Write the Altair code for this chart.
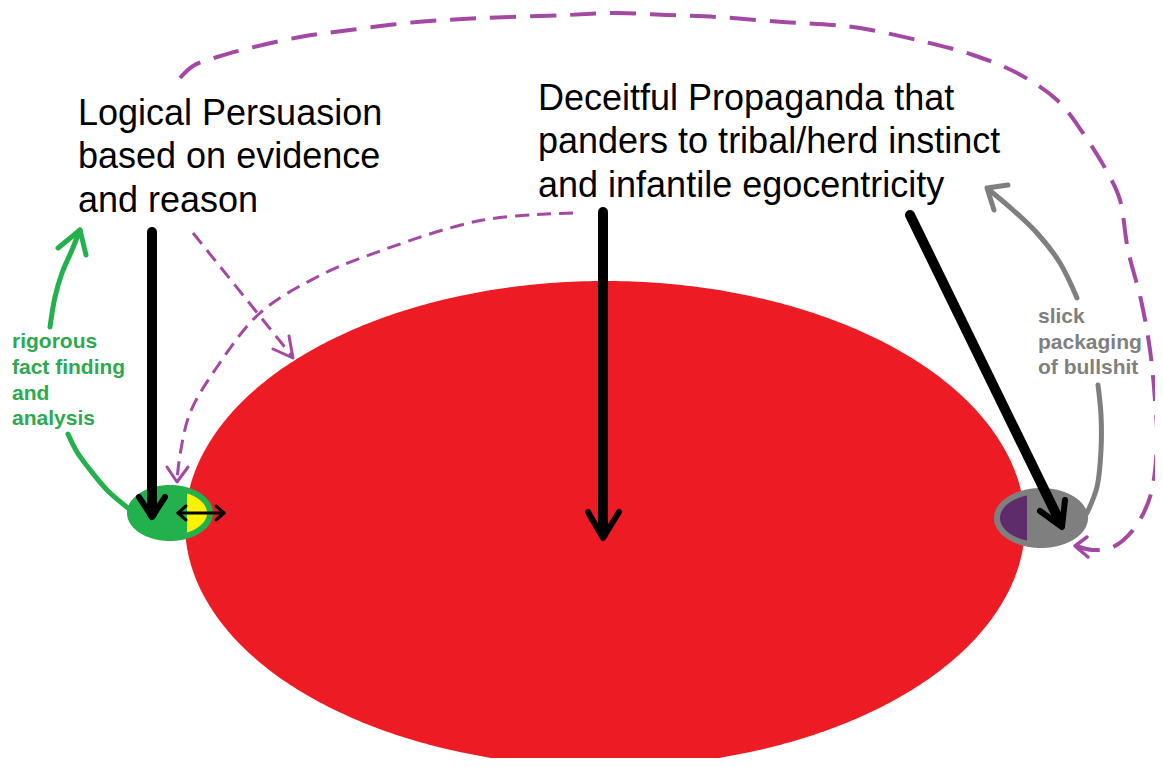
import altair as alt
import numpy as np
import pandas as pd

# ---------------- data (reference pixel coordinates) ----------------
# ellipses: big body, green "logic" blob + yellow core, grey "spin" blob + purple core
ell_name = ["body", "logic", "logic_core", "spin", "spin_core"]
ell_cx = [605, 170, 170, 1041, 1041]
ell_cy = [524, 513, 513, 518, 518]
ell_rx = [420, 43, 37, 47, 41]
ell_ry = [243, 28, 22, 30, 24]
ell_xmin = [None, None, 187, None, None]
ell_xmax = [None, None, None, None, 1027]

# big purple dashed loop (right text -> grey blob)
loop_x = [180, 193, 217, 250, 300, 350, 417, 483, 567, 617, 667, 717, 783, 833, 860, 917, 973,
          1017, 1057, 1083, 1110, 1120, 1128, 1141, 1150, 1155, 1157, 1150, 1133, 1113, 1093, 1076]
loop_y = [78, 66, 57, 48, 37, 30, 22, 18, 15, 13, 15, 17, 22, 25, 28, 40, 55,
          73, 100, 133, 177, 200, 250, 300, 350, 400, 443, 497, 530, 547, 550, 546]
loop_head_x = [1087, 1075, 1088]
loop_head_y = [537, 546, 557]

# purple dashed curve (right text -> green blob)
mid_x = [573, 483, 383, 317, 260, 217, 190, 180, 177]
mid_y = [213, 220, 250, 277, 313, 367, 413, 455, 480]
mid_head_x = [167, 177, 188]
mid_head_y = [467, 482, 467]

# purple dashed diagonal (left text -> body)
diag_x = [193, 292]
diag_y = [233, 356]
diag_head_x = [273, 293, 289]
diag_head_y = [349, 358, 336]

# black arrows
blk_left_x, blk_left_y = [152, 152], [232, 514]
blk_left_head_x, blk_left_head_y = [139, 152, 165], [497, 517, 497]
blk_mid_x, blk_mid_y = [603, 603], [212, 534]
blk_mid_head_x, blk_mid_head_y = [588, 603, 619], [512, 538, 512]
blk_diag_x, blk_diag_y = [910, 1060], [215, 522]
blk_diag_head_x, blk_diag_head_y = [1040, 1062, 1065], [511, 527, 500]
dbl_x, dbl_y = [178, 224], [513, 513]
dbl_head1_x, dbl_head1_y = [186, 178, 186], [506, 513, 520]
dbl_head2_x, dbl_head2_y = [216, 224, 216], [506, 513, 520]

# green curved arrow
grn_low_x = [128, 108, 91, 77, 68]
grn_low_y = [508, 491, 471, 452, 434]
grn_up_x = [50, 55, 62, 72, 80]
grn_up_y = [327, 297, 273, 250, 230]
grn_head_x = [58, 80, 86]
grn_head_y = [248, 230, 255]

# grey curved arrow
gry_low_x = [1087, 1097, 1101, 1101, 1098]
gry_low_y = [513, 487, 450, 415, 385]
gry_up_x = [1077, 1060, 1037, 1013, 988]
gry_up_y = [298, 263, 233, 210, 189]
gry_head_x = [1008, 987, 994]
gry_head_y = [185, 188, 210]

# texts
logic_lines = ["Logical Persuasion", "based on evidence", "and reason"]
logic_base = [125, 168, 212]
prop_lines = ["Deceitful Propaganda that", "panders to tribal/herd instinct", "and infantile egocentricity"]
prop_base = [110, 153, 197]
fact_lines = ["rigorous", "fact finding", "and", "analysis"]
fact_base = [348, 374, 400, 425]
slick_lines = ["slick", "packaging", "of bullshit"]
slick_base = [323, 349, 374]

# ---------------- styles ----------------
RED, GREEN, YELLOW = "#ED1C24", "#22B14C", "#FFF200"
GREY, DPURPLE, PURPLE = "#7F7F7F", "#5E2B6B", "#A349A4"
FONT = "Liberation Sans"

W, H = 1147, 750
X = alt.X("x:Q", scale=alt.Scale(domain=[8, 8 + W], nice=False, zero=False), axis=None)
Y = alt.Y("y:Q", scale=alt.Scale(domain=[8, 8 + H], nice=False, zero=False, reverse=True), axis=None)


def ellipse_layer(i, color):
    cx, cy, rx, ry = ell_cx[i], ell_cy[i], ell_rx[i], ell_ry[i]
    lo = cx - rx if ell_xmin[i] is None else max(cx - rx, ell_xmin[i])
    hi = cx + rx if ell_xmax[i] is None else min(cx + rx, ell_xmax[i])
    t_lo = np.arccos(np.clip((cx - lo) / rx, -1, 1))
    t_hi = np.arccos(np.clip((cx - hi) / rx, -1, 1))
    t = np.linspace(t_lo, t_hi, 241)
    xs = cx - rx * np.cos(t)
    half = ry * np.sqrt(np.clip(1 - ((xs - cx) / rx) ** 2, 0, None))
    df = pd.DataFrame({"x": xs, "y": cy - half, "y2": cy + half})
    return alt.Chart(df).mark_area(color=color, interpolate="linear").encode(
        x=X, y=Y, y2="y2:Q")


def path_layer(xs, ys, color, width, dash=None, interp="catmull-rom"):
    df = pd.DataFrame({"x": xs, "y": ys, "i": list(range(len(xs)))})
    kw = dict(color=color, strokeWidth=width, strokeJoin="round", interpolate=interp)
    if dash:
        kw["strokeDash"] = dash
        kw["strokeCap"] = "butt"
    else:
        kw["strokeCap"] = "round"
    return alt.Chart(df).mark_line(**kw).encode(x=X, y=Y, order="i:Q")


def text_layer(lines, x, bases, size, color, weight):
    df = pd.DataFrame({"x": [x] * len(lines), "y": bases, "t": lines})
    return alt.Chart(df).mark_text(align="left", baseline="alphabetic", font=FONT,
                                   fontSize=size, fontWeight=weight, color=color).encode(
        x=X, y=Y, text="t:N")


layers = [
    ellipse_layer(0, RED),
    path_layer(loop_x, loop_y, PURPLE, 4, dash=[26, 14]),
    path_layer(loop_head_x, loop_head_y, PURPLE, 3.5, interp="linear"),
    path_layer(mid_x, mid_y, PURPLE, 3, dash=[14, 8]),
    path_layer(mid_head_x, mid_head_y, PURPLE, 3, interp="linear"),
    path_layer(diag_x, diag_y, PURPLE, 3, dash=[14, 8], interp="linear"),
    path_layer(diag_head_x, diag_head_y, PURPLE, 3, interp="linear"),
    ellipse_layer(1, GREEN),
    ellipse_layer(2, YELLOW),
    ellipse_layer(3, GREY),
    ellipse_layer(4, DPURPLE),
    path_layer(blk_left_x, blk_left_y, "black", 10, interp="linear"),
    path_layer(blk_left_head_x, blk_left_head_y, "black", 6, interp="linear"),
    path_layer(blk_mid_x, blk_mid_y, "black", 10, interp="linear"),
    path_layer(blk_mid_head_x, blk_mid_head_y, "black", 6, interp="linear"),
    path_layer(blk_diag_x, blk_diag_y, "black", 10, interp="linear"),
    path_layer(blk_diag_head_x, blk_diag_head_y, "black", 6, interp="linear"),
    path_layer(dbl_x, dbl_y, "black", 3, interp="linear"),
    path_layer(dbl_head1_x, dbl_head1_y, "black", 3, interp="linear"),
    path_layer(dbl_head2_x, dbl_head2_y, "black", 3, interp="linear"),
    path_layer(grn_low_x, grn_low_y, GREEN, 5),
    path_layer(grn_up_x, grn_up_y, GREEN, 5),
    path_layer(grn_head_x, grn_head_y, GREEN, 5, interp="linear"),
    path_layer(gry_low_x, gry_low_y, GREY, 5),
    path_layer(gry_up_x, gry_up_y, GREY, 5),
    path_layer(gry_head_x, gry_head_y, GREY, 5, interp="linear"),
    text_layer(logic_lines, 78, logic_base, 36, "black", "normal"),
    text_layer(prop_lines, 538, prop_base, 36, "black", "normal"),
    text_layer(fact_lines, 12, fact_base, 21, "#2DA94F", "bold"),
    text_layer(slick_lines, 1038, slick_base, 21, "#808080", "bold"),
]

chart = alt.layer(*layers).properties(
    width=W, height=H, padding=0, background="white",
    autosize=alt.AutoSizeParams(type="none")
).configure_view(stroke=None, strokeWidth=0)

chart.save("out.html", embed_options={"renderer": "svg", "actions": False})
